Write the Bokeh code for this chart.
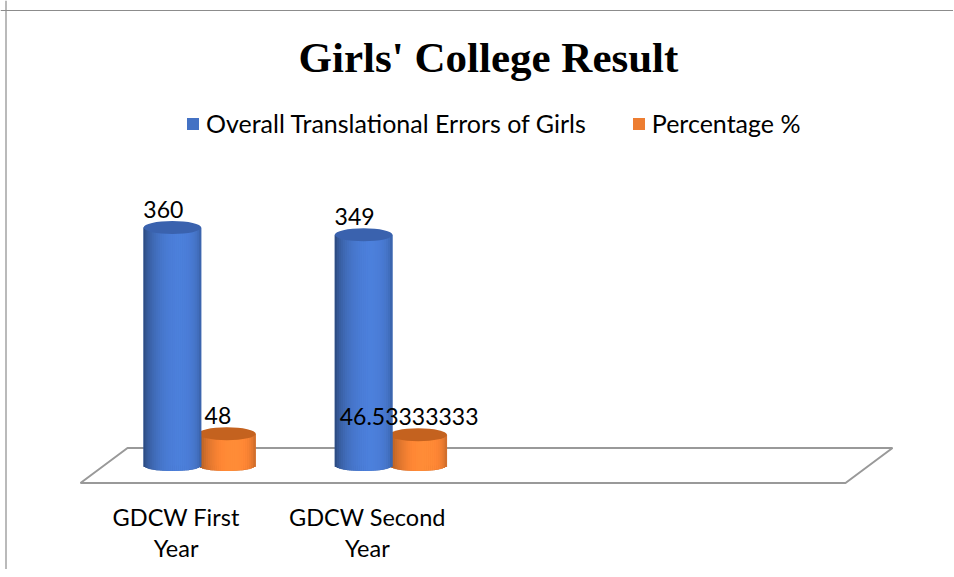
import math
from bokeh.plotting import figure
from bokeh.models import Range1d, ColumnDataSource, Legend, LegendItem, Span, Label
from bokeh.core.properties import value
from bokeh.embed import file_html
from bokeh.resources import INLINE

# ---------------- data ----------------
categories = ["GDCW First\nYear", "GDCW Second\nYear", "", ""]
series_names = ["Overall Translational Errors of Girls", "Percentage %"]
errors = [360, 349]
percentage = [48, 46.53333333]
error_labels = ["360", "349"]
percentage_labels = ["48", "46.53333333"]
title_text = "Girls' College Result"

# ---------------- layout / style ----------------
W, H = 953, 569
SLOT_PX = 191.25          # pixel width of one category slot
PLOT_LEFT = 80            # figure px where the front floor edge starts
BASE_Y = 465              # figure px (from top) of value 0 (bars' mid-depth base)
PX_PER_UNIT = 0.661       # pixels per value unit
DEPTH_X, DEPTH_Y = 47, 35 # floor depth projection in px
BAR_W_PX = 57.5
BAR_OFF_PX = 27.25
BAR_DEPTH_SHIFT = 23.5
TOP_E_H, BOT_E_H = 13, 11

FONT = "Lato"

x_start = -0.5 - PLOT_LEFT / SLOT_PX
x_end = x_start + W / SLOT_PX
y_end = BASE_Y / PX_PER_UNIT
y_start = y_end - H / PX_PER_UNIT


def dx(px):
    return px / SLOT_PX


def dy(px):
    return px / PX_PER_UNIT


def xdat(fx):
    return x_start + fx / SLOT_PX


def ydat(fy):
    return (BASE_Y - fy) / PX_PER_UNIT


BLUE = (68, 114, 196)
ORANGE = (237, 125, 49)
BLUE_TOP = "#3A62AE"
ORANGE_TOP = "#C4621F"


def hexc(rgb, f):
    return "#%02x%02x%02x" % tuple(max(0, min(255, int(round(c * f)))) for c in rgb)


p = figure(width=W, height=H, output_backend="svg", toolbar_location=None,
           x_range=Range1d(x_start, x_end), y_range=Range1d(y_start, y_end),
           x_axis_type=None, y_axis_type=None, min_border=0,
           outline_line_color=None, background_fill_color="white",
           border_fill_color="white")
p.grid.visible = False

# border (left + top of chart area)
p.add_layout(Span(location=xdat(5.5), dimension="height", line_color="#8C8C8C", line_width=1.2))
p.add_layout(Span(location=ydat(10), dimension="width", line_color="#8C8C8C", line_width=1.2))

# floor
n = len(categories)
fy_front = -dy(DEPTH_Y / 2)
fy_back = dy(DEPTH_Y / 2)
floor_x = [-0.5, n - 0.5, n - 0.5 + dx(DEPTH_X), -0.5 + dx(DEPTH_X)]
floor_y = [fy_front, fy_front, fy_back, fy_back]
p.patch(floor_x, floor_y, fill_color="white", line_color="#999999", line_width=2)

bar_w = dx(BAR_W_PX)
NSTRIP = 28


def cylinders(vals, offset_px, base_rgb, top_color):
    xs = [i + dx(BAR_DEPTH_SHIFT + offset_px) for i in range(len(vals))]
    # bottom ellipse
    p.ellipse(x=xs, y=[0] * len(vals), width=bar_w, height=BOT_E_H, height_units="screen",
              fill_color=hexc(base_rgb, 0.8), line_color=None)
    # flat body (legend renderer)
    body = p.vbar(x=xs, top=vals, bottom=0, width=bar_w, fill_color=hexc(base_rgb, 1.0),
                  line_color=None)
    # shading strips
    sx, st, sb, sc = [], [], [], []
    sw = bar_w / NSTRIP
    for xc, v in zip(xs, vals):
        for k in range(NSTRIP):
            t = (k + 0.5) / NSTRIP
            u = 2 * t - 1
            lum = max(0.0, math.cos(math.asin(u) - 0.25))
            f = 0.66 + 0.46 * lum
            sx.append(xc - bar_w / 2 + (k + 0.5) * sw)
            st.append(v)
            sb.append(-dy(BOT_E_H / 2 * math.sqrt(max(0.0, 1 - u * u))))
            sc.append(hexc(base_rgb, f))
    src = ColumnDataSource(dict(x=sx, top=st, bottom=sb, color=sc))
    p.vbar(x="x", top="top", bottom="bottom", width=sw * 1.2, fill_color="color",
           line_color=None, source=src)
    # top ellipse
    p.ellipse(x=xs, y=vals, width=bar_w, height=TOP_E_H, height_units="screen",
              fill_color=top_color, line_color=None)
    return body, xs


orange_body, orange_x = cylinders(percentage, BAR_OFF_PX, ORANGE, ORANGE_TOP)
blue_body, blue_x = cylinders(errors, -BAR_OFF_PX, BLUE, BLUE_TOP)

# data labels
lab_x = [x - dx(9) for x in blue_x] + [x - dx(9) for x in orange_x]
lab_y = list(errors) + list(percentage)
lab_t = list(error_labels) + list(percentage_labels)
p.text(x=lab_x, y=lab_y, text=lab_t, text_align="center", text_baseline="middle",
       y_offset=-18, text_font=value(FONT), text_font_size="23px", text_color="#000000")

# category labels
p.text(x=list(range(n)), y=[ydat(502)] * n, text=categories, text_align="center",
       text_baseline="top", text_font=value(FONT), text_font_size="23.5px",
       text_line_height=1.12, text_color="#000000")

# title
p.add_layout(Label(x=xdat(488), y=ydat(57), text=title_text, text_align="center",
                   text_baseline="alphabetic", text_font="Liberation Serif",
                   text_font_style="bold", text_font_size="43px", text_color="#000000"))

# legend
legend = Legend(items=[LegendItem(label=series_names[0], renderers=[blue_body]),
                       LegendItem(label=series_names[1], renderers=[orange_body])],
                orientation="horizontal", location=(185, 431),
                glyph_width=15, glyph_height=15, label_standoff=6, spacing=45,
                padding=0, margin=0, border_line_color=None, background_fill_alpha=0,
                label_text_font=FONT, label_text_font_size="25px",
                label_text_color="#000000")
p.add_layout(legend)

open("out.html", "w").write(file_html(p, INLINE))
